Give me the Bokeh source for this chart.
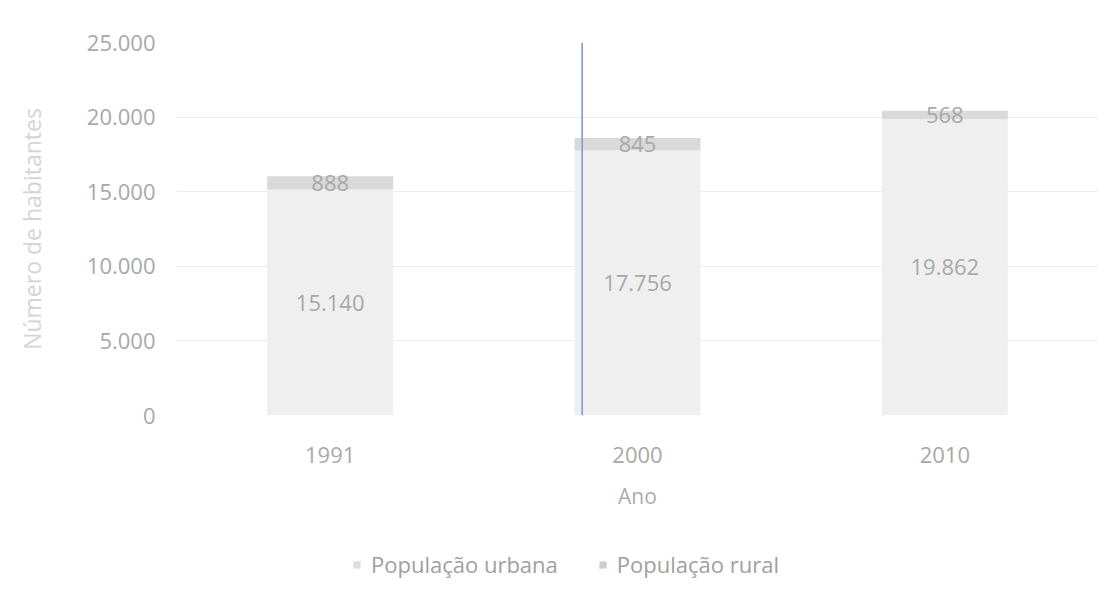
from bokeh.plotting import figure
from bokeh.layouts import column
from bokeh.models import ColumnDataSource, Legend, LegendItem, FixedTicker, Span
from bokeh.core.properties import value
from bokeh.embed import file_html
from bokeh.resources import INLINE

years = ["1991", "2000", "2010"]
urbana = [15140, 17756, 19862]
rural = [888, 845, 568]
urbana_labels = ["15.140", "17.756", "19.862"]
rural_labels = ["888", "845", "568"]
series_names = ["População urbana", "População rural"]
y_ticks = [0, 5000, 10000, 15000, 20000, 25000]
y_tick_labels = ["0", "5.000", "10.000", "15.000", "20.000", "25.000"]

FONT = "Open Sans"
C_URB = "#efefef"
C_RUR = "#d9d9d9"

src = ColumnDataSource(dict(
    years=years, urbana=urbana, rural=rural,
    urb_mid=[u / 2 for u in urbana],
    rur_mid=[u + r / 2 for u, r in zip(urbana, rural)],
    urb_lab=urbana_labels, rur_lab=rural_labels,
))

p = figure(x_range=years, y_range=(0, 25000), width=1098, height=530,
           output_backend="svg", toolbar_location=None,
           min_border_left=176, min_border_right=0, min_border_top=42, min_border_bottom=115)
p.outline_line_color = None
p.background_fill_color = "white"
p.border_fill_color = "white"

rs = p.vbar_stack(["urbana", "rural"], x="years", width=0.41, source=src,
                  color=[C_URB, C_RUR], line_color=None)

p.text(x="years", y="urb_mid", text="urb_lab", source=src, text_font=value(FONT),
       text_font_size="22px", text_color="#a8a8a8", text_align="center", text_baseline="middle")
p.text(x="years", y="rur_mid", text="rur_lab", source=src, text_font=value(FONT),
       text_font_size="22px", text_color="#a8a8a8", text_align="center", text_baseline="middle")

# scan artifact: thin blue vertical line
p.add_layout(Span(location=1.32, dimension="height", line_color="#7a95d3", line_width=1.5))

p.xgrid.grid_line_color = None
p.ygrid.grid_line_color = "#ededed"
p.ygrid.grid_line_width = 1

p.yaxis.ticker = FixedTicker(ticks=y_ticks)
p.yaxis.major_label_overrides = {t: l for t, l in zip(y_ticks, y_tick_labels)}
for ax in (p.xaxis, p.yaxis):
    ax.axis_line_color = None
    ax.major_tick_line_color = None
    ax.minor_tick_line_color = None
    ax.major_label_text_font = FONT
    ax.major_label_text_font_size = "22px"
    ax.major_label_text_color = "#a8a8a8"
    ax.axis_label_text_font = FONT
    ax.axis_label_text_font_style = "normal"

p.yaxis.axis_label = "Número de habitantes"
p.yaxis.axis_label_text_font_size = "23px"
p.yaxis.axis_label_text_color = "#d4d4d4"
p.yaxis.major_label_standoff = 15
p.yaxis.axis_label_standoff = 36

p.xaxis.axis_label = "Ano"
p.xaxis.axis_label_text_font_size = "21px"
p.xaxis.axis_label_text_color = "#acacac"
p.xaxis.major_label_standoff = 25
p.xaxis.axis_label_standoff = 16

# legend strip: a separate figure with hidden renderers, so that only the legend is seen
p2 = figure(width=1098, height=57, x_range=years, y_range=(0, 25000),
            output_backend="svg", toolbar_location=None,
            min_border_left=0, min_border_right=0, min_border_top=0, min_border_bottom=0)
p2.axis.visible = False
p2.grid.visible = False
p2.outline_line_color = None
p2.border_fill_color = "white"
rs2 = p2.vbar_stack(["urbana", "rural"], x="years", width=0.41, source=src,
                    color=["#dedede", "#cdcdcd"], line_color=None)
for r in rs2:
    r.visible = False
legend = Legend(items=[LegendItem(label=series_names[0], renderers=[rs2[0]]),
                       LegendItem(label=series_names[1], renderers=[rs2[1]])],
                location=(176, 8), orientation="horizontal", click_policy="none",
                label_text_font=FONT, label_text_font_size="22px", label_text_color="#a0a0a0",
                glyph_width=9, glyph_height=9, label_standoff=10, spacing=40,
                padding=0, margin=0, border_line_color=None, background_fill_alpha=0)
p2.add_layout(legend, "center")

open("out.html", "w").write(file_html(column(p, p2, spacing=0), INLINE))
